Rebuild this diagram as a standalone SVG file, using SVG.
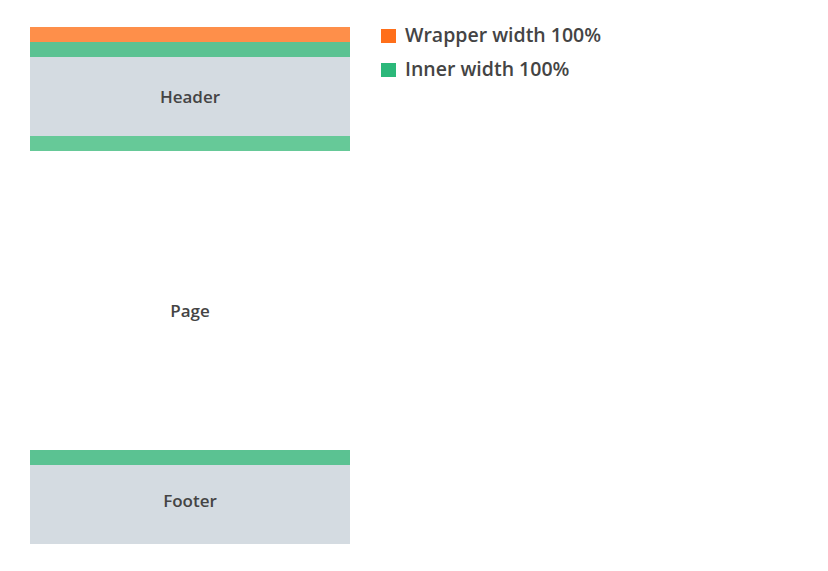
<svg xmlns="http://www.w3.org/2000/svg" width="828" height="571" viewBox="0 0 828 571">
<style>
.lbl{font-family:"Open Sans","Liberation Sans",sans-serif;font-weight:600;font-size:17px;fill:#444;text-anchor:middle;dominant-baseline:central}
.leg{font-family:"Open Sans","Liberation Sans",sans-serif;font-weight:600;font-size:19.5px;fill:#444}
.box{fill:#d4dbe1}
</style>
<rect width="828" height="571" fill="#fff"/>
<g id="header">
<rect x="30" y="27" width="320" height="15" fill="#fe8f4a"/>
<rect x="30" y="42" width="320" height="15" fill="#5bc292"/>
<rect class="box" x="30" y="57" width="320" height="79"/>
<rect x="30" y="136" width="320" height="15" fill="#66c998"/>
<text class="lbl" x="190" y="96">Header</text>
</g>
<g id="page">
<text class="lbl" x="190" y="310">Page</text>
</g>
<g id="footer">
<rect x="30" y="450" width="320" height="15" fill="#5bc292"/>
<rect class="box" x="30" y="465" width="320" height="79"/>
<text class="lbl" x="190" y="500">Footer</text>
</g>
<g id="legend">
<rect x="381" y="29" width="15" height="14" fill="#ff6f1a"/>
<text class="leg" x="405" y="42">Wrapper width 100%</text>
<rect x="381" y="63" width="15" height="14" fill="#2bb87a"/>
<text class="leg" x="405" y="76">Inner width 100%</text>
</g>
<g id="connectors"/>
</svg>
